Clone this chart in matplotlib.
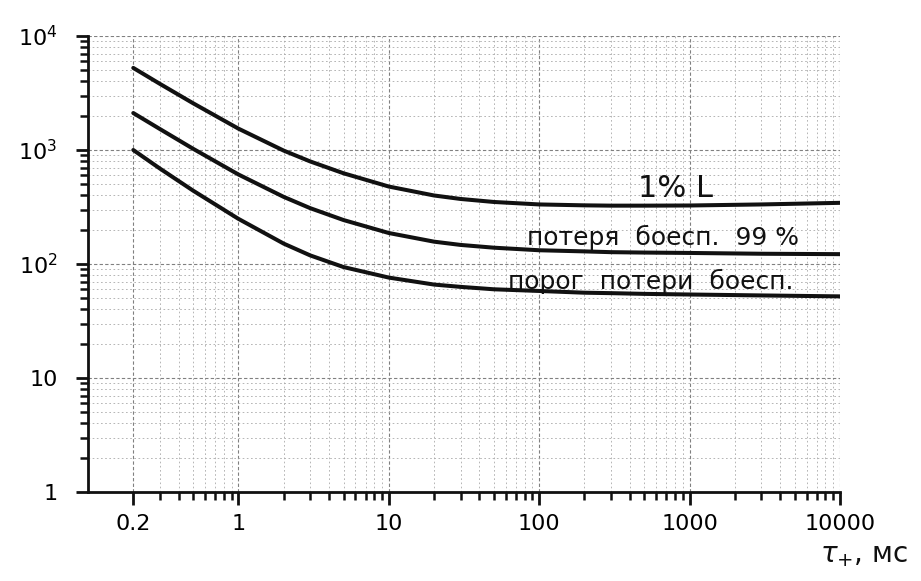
import matplotlib
matplotlib.use("Agg")
import matplotlib.pyplot as plt
from matplotlib.ticker import LogLocator, FixedLocator, FixedFormatter, NullFormatter

plt.rcParams['font.family'] = ['DejaVu Sans']

# pulse duration, ms
tau = [0.2, 0.3, 0.5, 1, 2, 3, 5, 10, 20, 30, 50, 100, 200, 300, 500, 1000, 3000, 10000]

# 1% L
lethal_1 = [5250, 3810, 2570, 1540, 988, 794, 625, 478, 399, 372, 350, 333,
            327, 325, 325, 326, 333, 344]
# loss of combat capability 99 %
loss_99 = [2110, 1530, 1025, 610, 388, 309, 243, 187, 157, 147, 139, 132,
           129, 127, 126, 125, 123, 122]
# threshold of loss of combat capability
loss_threshold = [1000, 689, 440, 249, 151, 119, 94, 76, 66, 63, 60, 58,
                  56, 55.5, 54.7, 54, 53, 52]

x_ticks = [0.2, 1, 10, 100, 1000, 10000]
x_labels = ["0.2", "1", "10", "100", "1000", "10000"]
y_ticks = [1, 10, 100, 1000, 10000]
y_labels = ["1", "10", r"$10^2$", r"$10^3$", r"$10^4$"]

fig = plt.figure(figsize=(9.21, 5.81), dpi=100)
ax = fig.add_axes([88 / 921, 1 - 492 / 581, (840 - 88) / 921, (492 - 36) / 581])
ax.set_xscale('log')
ax.set_yscale('log')
ax.set_xlim(0.1, 10000)
ax.set_ylim(1, 10000)

# graph-paper style grid
ax.grid(True, which='major', color='#808080', lw=0.8, ls=(0, (3, 2)))
ax.grid(True, which='minor', color='#aaaaaa', lw=0.6, ls=(0, (2, 3)))
ax.set_axisbelow(True)

for series in (lethal_1, loss_99, loss_threshold):
    ax.plot(tau, series, color='#111111', lw=2.9, solid_capstyle='round',
            solid_joinstyle='round')

ax.spines['top'].set_visible(False)
ax.spines['right'].set_visible(False)
for side in ('left', 'bottom'):
    ax.spines[side].set_linewidth(2.0)
    ax.spines[side].set_color('#111111')

ax.xaxis.set_major_locator(FixedLocator(x_ticks))
ax.xaxis.set_major_formatter(FixedFormatter(x_labels))
ax.xaxis.set_minor_locator(LogLocator(base=10, subs=range(2, 10)))
ax.xaxis.set_minor_formatter(NullFormatter())
ax.yaxis.set_major_locator(FixedLocator(y_ticks))
ax.yaxis.set_major_formatter(FixedFormatter(y_labels))
ax.yaxis.set_minor_locator(LogLocator(base=10, subs=range(2, 10)))
ax.yaxis.set_minor_formatter(NullFormatter())

ax.tick_params(which='major', direction='out', length=9, width=2, color='#111111',
               labelsize=16, pad=7)
ax.tick_params(which='minor', direction='out', length=6, width=1.8, color='#111111')
ax.tick_params(axis='y', which='major', pad=13)

ax.text(808, 464, "1% L", fontsize=22, ha='center', va='center', color='#111111')
ax.text(662, 172, "потеря  боесп.  99 %", fontsize=18, ha='center', va='center',
        color='#111111')
ax.text(551, 71, "порог  потери  боесп.", fontsize=18, ha='center', va='center',
        color='#111111')

fig.text(864 / 921, 1 - 555 / 581, r"$\tau_{+}$, мс", fontsize=20,
         ha='center', va='center', color='#111111')

fig.savefig("out.png", dpi=100, facecolor='white')
